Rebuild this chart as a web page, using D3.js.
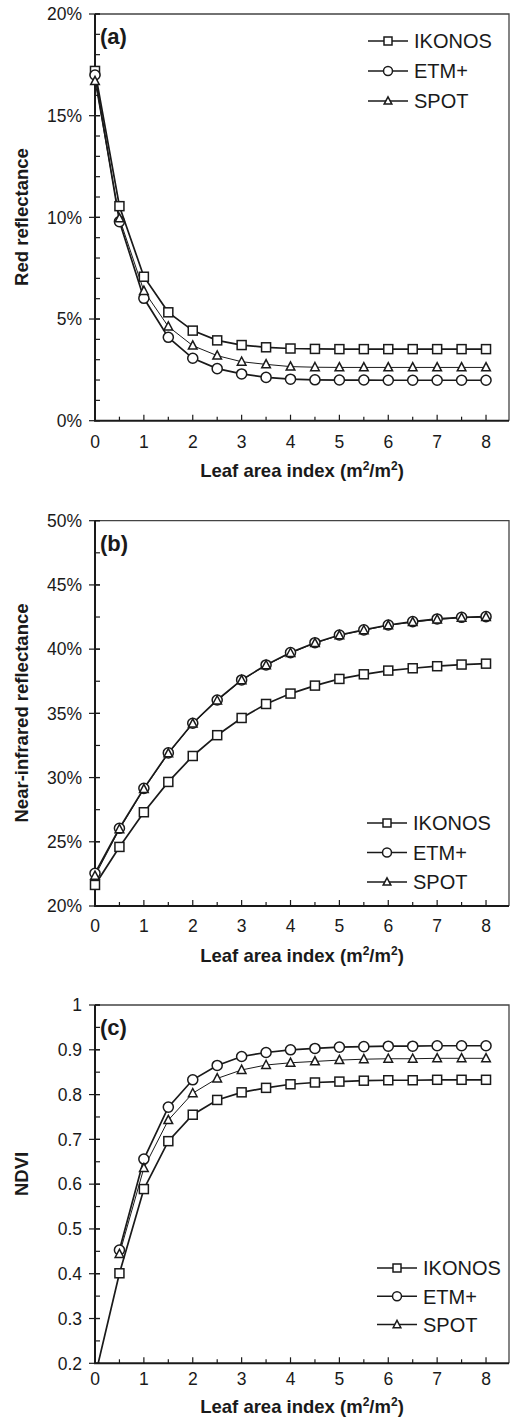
<!DOCTYPE html>
<html lang="en">
<head>
  <meta charset="UTF-8">
  <title>Reflectance and NDVI vs leaf area index</title>
  <script src="https://d3js.org/d3.v7.min.js"></script>
  <style>
    body {
      margin: 0;
      background-color: white;
      font-family: "Liberation Sans", Arial, sans-serif;
    }
    svg { display: block; }
  </style>
</head>
<body>
  <div id="viz"></div>

  <script>
    // leaf area index samples
    const lai = [0, 0.5, 1, 1.5, 2, 2.5, 3, 3.5, 4, 4.5, 5, 5.5, 6, 6.5, 7, 7.5, 8];
    const laiTicks = [0, 1, 2, 3, 4, 5, 6, 7, 8];
    const sensors = ["IKONOS", "ETM+", "SPOT"];

    // (a) red reflectance, %
    const redIkonos = [17.2, 10.55, 7.08, 5.33, 4.43, 3.95, 3.72, 3.61, 3.55, 3.53, 3.52, 3.52, 3.52, 3.52, 3.52, 3.52, 3.52];
    const redEtm = [17.0, 9.79, 6.02, 4.10, 3.07, 2.56, 2.30, 2.13, 2.04, 2.01, 2.0, 2.0, 1.99, 1.99, 1.99, 1.99, 1.99];
    const redSpot = [16.7, 9.95, 6.38, 4.63, 3.69, 3.20, 2.90, 2.77, 2.66, 2.63, 2.62, 2.62, 2.62, 2.62, 2.62, 2.62, 2.62];
    const redTicks = [0, 5, 10, 15, 20];

    // (b) near-infrared reflectance, %
    const nirIkonos = [21.64, 24.6, 27.3, 29.66, 31.68, 33.3, 34.64, 35.73, 36.54, 37.16, 37.68, 38.04, 38.33, 38.51, 38.67, 38.8, 38.87];
    const nirEtm = [22.55, 26.05, 29.16, 31.92, 34.23, 36.04, 37.6, 38.77, 39.73, 40.5, 41.1, 41.5, 41.88, 42.14, 42.35, 42.48, 42.53];
    const nirSpot = [22.35, 25.98, 29.1, 31.88, 34.2, 36.0, 37.58, 38.75, 39.7, 40.47, 41.07, 41.47, 41.85, 42.1, 42.31, 42.44, 42.5];
    const nirTicks = [20, 25, 30, 35, 40, 45, 50];

    // (c) NDVI
    const ndviIkonos = [0.17, 0.401, 0.589, 0.696, 0.755, 0.788, 0.805, 0.815, 0.823, 0.827, 0.829, 0.831, 0.832, 0.832, 0.833, 0.833, 0.833];
    const ndviEtm = [null, 0.453, 0.656, 0.772, 0.833, 0.865, 0.885, 0.894, 0.90, 0.903, 0.906, 0.907, 0.908, 0.908, 0.909, 0.909, 0.909];
    const ndviSpot = [null, 0.444, 0.636, 0.743, 0.803, 0.836, 0.855, 0.866, 0.871, 0.874, 0.877, 0.879, 0.880, 0.880, 0.881, 0.881, 0.881];
    const ndviTicks = [0.2, 0.3, 0.4, 0.5, 0.6, 0.7, 0.8, 0.9, 1];

    const ink = "#1a1a1a";
    const svg = d3.select("#viz").append("svg")
      .attr("width", 511)
      .attr("height", 1419);

    function marker(g, shape, cx, cy, s) {
      if (shape === "IKONOS") {
        g.append("rect").attr("x", cx - s / 2).attr("y", cy - s / 2)
          .attr("width", s).attr("height", s);
      } else if (shape === "ETM+") {
        g.append("circle").attr("cx", cx).attr("cy", cy).attr("r", s * 0.56);
      } else {
        const h = s * 0.85;
        g.append("path")
          .attr("d", `M${cx},${cy - h * 0.62}L${cx + s * 0.48},${cy + h * 0.45}L${cx - s * 0.48},${cy + h * 0.45}Z`);
      }
    }

    function panel(cfg) {
      const left = 95, right = 509;
      const g = svg.append("g");

      const x = d3.scaleLinear().domain([0, 8.47]).range([left, right]);
      const y = d3.scaleLinear().domain(cfg.yDomain).range([cfg.bottom, cfg.top]);

      const clipId = "clip-" + cfg.tag;
      svg.append("clipPath").attr("id", clipId)
        .append("rect").attr("x", left).attr("y", cfg.top)
        .attr("width", right - left).attr("height", cfg.bottom - cfg.top);

      // frame top / right
      g.append("path")
        .attr("d", `M${left},${cfg.top}H${right}V${cfg.bottom}`)
        .attr("fill", "none").attr("stroke", "#444").attr("stroke-width", 1.3);

      // y minor ticks (inside)
      g.append("g").selectAll("line").data(d3.range(cfg.yDomain[0], cfg.yDomain[1] + 1e-9, cfg.minor))
        .join("line")
        .attr("x1", left).attr("x2", left + 5)
        .attr("y1", d => y(d)).attr("y2", d => y(d))
        .attr("stroke", ink).attr("stroke-width", 1.2);

      // y major ticks (crossing)
      g.append("g").selectAll("line").data(cfg.yTicks)
        .join("line")
        .attr("x1", left - 6).attr("x2", left + 5)
        .attr("y1", d => y(d)).attr("y2", d => y(d))
        .attr("stroke", ink).attr("stroke-width", 1.2);

      g.append("g").selectAll("text").data(cfg.yTicks)
        .join("text")
        .attr("x", left - 13).attr("y", d => y(d))
        .attr("dy", "0.36em")
        .attr("text-anchor", "end")
        .attr("font-size", "17.5px")
        .attr("fill", ink)
        .text(cfg.yFormat);

      // x ticks (inside)
      g.append("g").selectAll("line").data(lai.filter(d => d > 0))
        .join("line")
        .attr("x1", d => x(d)).attr("x2", d => x(d))
        .attr("y1", cfg.bottom).attr("y2", d => cfg.bottom - (d % 1 === 0 ? 6 : 4))
        .attr("stroke", ink).attr("stroke-width", 1.2);

      g.append("g").selectAll("text").data(laiTicks)
        .join("text")
        .attr("x", d => x(d)).attr("y", cfg.bottom + cfg.xLabelDy)
        .attr("text-anchor", "middle")
        .attr("font-size", "17.5px")
        .attr("fill", ink)
        .text(d => d);

      // axis lines
      g.append("path")
        .attr("d", `M${left},${cfg.top}V${cfg.bottom}H${right}`)
        .attr("fill", "none").attr("stroke", ink).attr("stroke-width", 2);

      // series
      const series = [cfg.data[0], cfg.data[1], cfg.data[2]];
      const plot = g.append("g").attr("clip-path", `url(#${clipId})`);
      series.forEach((vals, i) => {
        const pts = lai.map((v, j) => [v, vals[j]]).filter(p => p[1] !== null);
        const line = d3.line().x(p => x(p[0])).y(p => y(p[1]));
        plot.append("path")
          .datum(pts)
          .attr("fill", "none")
          .attr("stroke", ink)
          .attr("stroke-width", i === 2 ? 1.0 : 1.7)
          .attr("d", line);
      });
      series.forEach((vals, i) => {
        const mg = g.append("g").attr("fill", "white").attr("stroke", ink).attr("stroke-width", 1.5);
        lai.forEach((v, j) => {
          const val = vals[j];
          if (val === null || val < cfg.yDomain[0]) return;
          marker(mg, sensors[i], x(v), y(val), 9);
        });
      });

      // panel tag
      g.append("text")
        .attr("x", left + 5).attr("y", cfg.top + 30)
        .attr("font-size", "22px").attr("font-weight", "bold")
        .attr("fill", ink)
        .text(`(${cfg.tag})`);

      // legend
      sensors.forEach((s, i) => {
        const ly = cfg.legendY + i * cfg.legendGap;
        const lx = cfg.legendX;
        g.append("line")
          .attr("x1", lx).attr("x2", lx + 40)
          .attr("y1", ly).attr("y2", ly)
          .attr("stroke", ink).attr("stroke-width", 1.5);
        const mg = g.append("g").attr("fill", "white").attr("stroke", ink).attr("stroke-width", 1.5);
        marker(mg, s, lx + 20, ly, 8);
        g.append("text")
          .attr("x", lx + 46).attr("y", ly)
          .attr("dy", "0.36em")
          .attr("font-size", "20px")
          .attr("fill", ink)
          .text(s);
      });

      // axis titles (superscripts shifted by fixed px so baseline returns)
      const xt = g.append("text")
        .attr("x", (left + right) / 2).attr("y", cfg.bottom + cfg.xTitleDy)
        .attr("text-anchor", "middle")
        .attr("font-size", "18.5px").attr("font-weight", "bold")
        .attr("fill", ink);
      xt.append("tspan").text("Leaf area index (m");
      xt.append("tspan").attr("font-size", "12px").attr("dy", -7).text("2");
      xt.append("tspan").attr("dy", 7).text("/m");
      xt.append("tspan").attr("font-size", "12px").attr("dy", -7).text("2");
      xt.append("tspan").attr("dy", 7).text(")");

      g.append("text")
        .attr("transform", `translate(28,${cfg.yTitleY}) rotate(-90)`)
        .attr("text-anchor", "middle")
        .attr("font-size", "18.5px").attr("font-weight", "bold")
        .attr("fill", ink)
        .text(cfg.yTitle);
    }

    panel({
      tag: "a", top: 14, bottom: 420.7, yDomain: [0, 20], yTicks: redTicks, minor: 1,
      yFormat: d => d + "%", data: [redIkonos, redEtm, redSpot],
      yTitle: "Red reflectance", yTitleY: 217,
      legendX: 368, legendY: 41, legendGap: 30,
      xLabelDy: 27, xTitleDy: 56
    });

    panel({
      tag: "b", top: 520.7, bottom: 906, yDomain: [20, 50], yTicks: nirTicks, minor: 2.5,
      yFormat: d => d + "%", data: [nirIkonos, nirEtm, nirSpot],
      yTitle: "Near-infrared reflectance", yTitleY: 713,
      legendX: 367, legendY: 823, legendGap: 29.5,
      xLabelDy: 26, xTitleDy: 56
    });

    panel({
      tag: "c", top: 1005, bottom: 1363.3, yDomain: [0.2, 1], yTicks: ndviTicks, minor: 0.05,
      yFormat: d => d === 1 ? "1" : d3.format(".1f")(d), data: [ndviIkonos, ndviEtm, ndviSpot],
      yTitle: "NDVI", yTitleY: 1174,
      legendX: 377, legendY: 1268, legendGap: 28.3,
      xLabelDy: 22, xTitleDy: 50
    });
  </script>
</body>
</html>
